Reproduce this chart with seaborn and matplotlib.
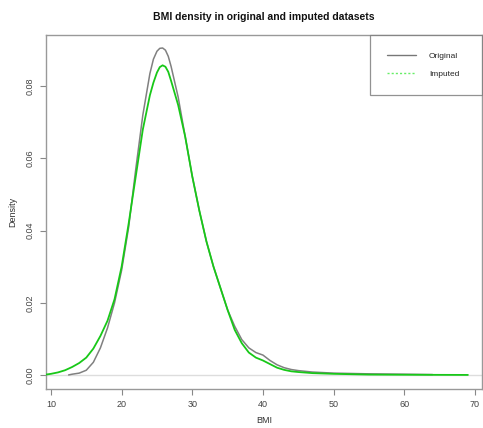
import matplotlib
matplotlib.use("Agg")
import matplotlib.pyplot as plt
from matplotlib.lines import Line2D
import seaborn as sns
import pandas as pd

# Density curves of BMI (estimated values)
bmi_original = [12.5, 13, 14, 15, 16, 17, 18, 19, 20, 21, 22, 23, 24, 24.5, 25,
                25.4, 25.8, 26.2, 26.6, 27, 28, 29, 30, 31, 32, 33, 34, 35, 36,
                37, 38, 39, 40, 41, 42, 43, 44, 45, 47, 50, 55, 60, 64]
dens_original = [0.0, 0.0002, 0.0005, 0.0013, 0.0035, 0.0075, 0.013, 0.020, 0.029,
                 0.041, 0.057, 0.072, 0.0835, 0.0875, 0.0897, 0.0905, 0.0906,
                 0.0900, 0.0883, 0.0855, 0.077, 0.066, 0.055, 0.0455, 0.037, 0.030,
                 0.024, 0.018, 0.0135, 0.0098, 0.0075, 0.0062, 0.0055, 0.0040,
                 0.0028, 0.0020, 0.0015, 0.0012, 0.0008, 0.0005, 0.0003, 0.0002,
                 0.0001]

bmi_imputed = [9.3, 10, 11, 12, 13, 14, 15, 16, 17, 18, 19, 20, 21, 22, 23, 24,
               24.5, 25, 25.4, 25.8, 26.2, 26.6, 27, 28, 29, 30, 31, 32, 33, 34,
               35, 36, 37, 38, 39, 40, 41, 42, 43, 44, 45, 47, 50, 55, 60, 65, 69]
dens_imputed = [0.0001, 0.0003, 0.0007, 0.0013, 0.0022, 0.0033, 0.0048, 0.0073,
                0.0108, 0.015, 0.021, 0.030, 0.042, 0.055, 0.068, 0.0775, 0.081,
                0.0838, 0.0853, 0.0858, 0.0854, 0.0840, 0.0815, 0.0748, 0.066,
                0.055, 0.0455, 0.037, 0.030, 0.024, 0.018, 0.0125, 0.0088, 0.0062,
                0.0048, 0.0040, 0.0030, 0.0020, 0.0014, 0.0010, 0.0008, 0.0005,
                0.0003, 0.0001, 0.00005, 0.00002, 0.0]

x_ticks = [10, 20, 30, 40, 50, 60, 70]
y_ticks = [0.00, 0.02, 0.04, 0.06, 0.08]
legend_labels = ["Original", "Imputed"]

sns.set_style("white")
plt.rcParams["font.family"] = ["Liberation Sans", "DejaVu Sans"]

fig = plt.figure(figsize=(4.83, 4.28), dpi=100)
ax = fig.add_axes([46 / 483, 1 - 389 / 428, (483 - 46) / 483 - 0.002, (389 - 35) / 428])

ax.axhline(0, color="#dddddd", lw=1.0, zorder=1)

df_o = pd.DataFrame({"BMI": bmi_original, "Density": dens_original})
df_i = pd.DataFrame({"BMI": bmi_imputed, "Density": dens_imputed})
sns.lineplot(data=df_o, x="BMI", y="Density", ax=ax, color="#808080", lw=1.1, zorder=2)
sns.lineplot(data=df_i, x="BMI", y="Density", ax=ax, color="#18c818", lw=1.3, zorder=3)

ax.set_xlim(9.3, 71.0)
ax.set_ylim(-0.0039, 0.0942)
ax.set_xticks(x_ticks)
ax.set_xticklabels([str(t) for t in x_ticks], fontsize=6.5, color="#444444")
ax.set_yticks(y_ticks)
ax.set_yticklabels([f"{t:.2f}" for t in y_ticks], fontsize=6.5, color="#444444",
                   rotation=90, va="center")
ax.tick_params(axis="both", direction="out", length=4, width=0.8, color="#888888",
               bottom=True, left=True, pad=4)
for s in ax.spines.values():
    s.set_color("#999999")
    s.set_linewidth(1.0)

ax.set_xlabel("BMI", fontsize=6.5, color="#333333", labelpad=5)
ax.set_ylabel("Density", fontsize=6.5, color="#333333", labelpad=6)
ax.set_title("BMI density in original and imputed datasets", fontsize=7.5,
             fontweight="bold", pad=11, color="#111111")

handles = [Line2D([], [], color="#777777", lw=1.0),
           Line2D([], [], color="#66ee66", lw=1.0, ls=(0, (1.5, 1.5)))]
leg = ax.legend(handles, legend_labels, loc="upper right", fontsize=6,
                frameon=True, fancybox=False, handlelength=3.5, handletextpad=1.55,
                borderpad=2.0, labelspacing=1.3, borderaxespad=0, mode="expand",
                bbox_to_anchor=(1 - 112 / 437, 0.5, 112 / 437, 0.5))
leg.get_frame().set_edgecolor("#777777")
leg.get_frame().set_linewidth(0.9)

fig.savefig("out.png", dpi=100)
